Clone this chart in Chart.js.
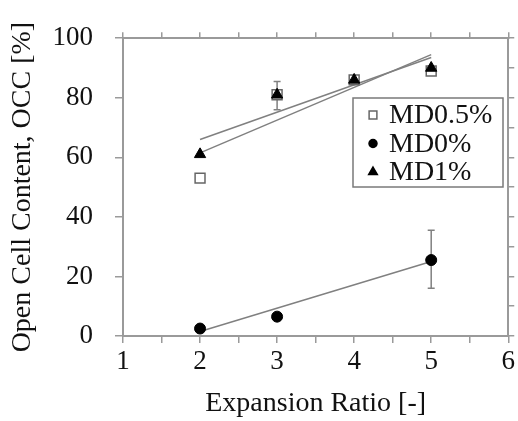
<!DOCTYPE html>
<html>
<head>
<meta charset="utf-8">
<script src="https://cdn.jsdelivr.net/npm/chart.js@4/dist/chart.umd.min.js"></script>
<style>
  html, body { margin: 0; padding: 0; background: #fff; }
  #wrap { width: 518px; height: 421px; }
</style>
</head>
<body>
<div id="wrap"><canvas id="chart" width="518" height="421"></canvas></div>
<script>
// Data
const ratios = [2, 3, 4, 5];
const md05 = [53, 81, 86, 89];
const md1 = [61, 81, 86, 90];
const md0Ratios = [2, 3, 5];
const md0 = [2.5, 6.5, 25.5];

// error bars: [x, low, high]
const errMd05 = [[3, 76, 85.5]];
const errMd0 = [[5, 16, 35.5]];

// trend lines, end points at ratio 2 and 5
const fitX = [2, 5];
const fitMd05 = [61.5, 94.5];
const fitMd1 = [66, 93.5];
const fitMd0 = [1.5, 25];

const FONT = 'Liberation Serif';
const AXIS_GREY = '#9a9a9a';
const LINE_GREY = '#808080';

const pts = (xs, ys) => xs.map((x, i) => ({ x: x, y: ys[i] }));

// error bars drawn under the markers
const errorBars = {
    id: 'errorBars',
    beforeDatasetsDraw(chart) {
        const ctx = chart.ctx;
        const xs = chart.scales.x, ys = chart.scales.y;
        ctx.save();
        ctx.strokeStyle = LINE_GREY;
        ctx.lineWidth = 1.5;
        errMd05.concat(errMd0).forEach(e => {
            const px = xs.getPixelForValue(e[0]);
            const lo = ys.getPixelForValue(e[1]);
            const hi = ys.getPixelForValue(e[2]);
            ctx.beginPath();
            ctx.moveTo(px, lo); ctx.lineTo(px, hi);
            ctx.moveTo(px - 3.5, lo); ctx.lineTo(px + 3.5, lo);
            ctx.moveTo(px - 3.5, hi); ctx.lineTo(px + 3.5, hi);
            ctx.stroke();
        });
        ctx.restore();
    }
};

// boxed legend inside the plot
const boxLegend = {
    id: 'boxLegend',
    afterDraw(chart) {
        const ctx = chart.ctx;
        const box = { left: 353, top: 98, right: 503, bottom: 187 };
        ctx.save();
        ctx.fillStyle = '#fff';
        ctx.fillRect(box.left, box.top, box.right - box.left, box.bottom - box.top);
        ctx.strokeStyle = '#7a7a7a';
        ctx.lineWidth = 1.5;
        ctx.strokeRect(box.left, box.top, box.right - box.left, box.bottom - box.top);
        ctx.font = '28px "' + FONT + '"';
        ctx.textBaseline = 'middle';
        const entries = chart.data.datasets.filter(d => d.legendRow !== undefined)
            .sort((a, b) => a.legendRow - b.legendRow);
        entries.forEach((ds, i) => {
            const y = 115 + i * 28.5;
            ctx.fillStyle = ds.backgroundColor;
            ctx.strokeStyle = ds.borderColor;
            Chart.helpers.drawPoint(ctx, {
                pointStyle: ds.pointStyle,
                radius: ds.pointRadius - 1.5,
                borderWidth: ds.borderWidth,
                rotation: 0
            }, 373, y);
            ctx.fillStyle = '#111';
            ctx.fillText(ds.label, 389, y + 1);
        });
        ctx.restore();
    }
};

function axisGrid(len) {
    return {
        drawOnChartArea: false,
        drawTicks: true,
        tickLength: len,
        color: AXIS_GREY,
        lineWidth: 1.5
    };
}

new Chart(document.getElementById('chart'), {
    type: 'scatter',
    data: {
        datasets: [
            {
                label: 'MD1%', legendRow: 2,
                data: pts(ratios, md1),
                pointStyle: 'triangle', pointRadius: 6.5,
                backgroundColor: '#000', borderColor: '#000', borderWidth: 1,
                order: 1
            },
            {
                label: 'MD0.5%', legendRow: 0,
                data: pts(ratios, md05),
                pointStyle: 'rect', pointRadius: 7,
                backgroundColor: '#fff', borderColor: '#666', borderWidth: 1.5,
                order: 2
            },
            {
                label: 'MD0%', legendRow: 1,
                data: pts(md0Ratios, md0),
                pointStyle: 'circle', pointRadius: 5.5,
                backgroundColor: '#000', borderColor: '#000', borderWidth: 1,
                order: 1
            },
            {
                label: 'fit MD0.5%', type: 'line',
                data: pts(fitX, fitMd05),
                borderColor: LINE_GREY, borderWidth: 1.5, pointRadius: 0,
                fill: false, order: 3
            },
            {
                label: 'fit MD1%', type: 'line',
                data: pts(fitX, fitMd1),
                borderColor: LINE_GREY, borderWidth: 1.5, pointRadius: 0,
                fill: false, order: 3
            },
            {
                label: 'fit MD0%', type: 'line',
                data: pts(fitX, fitMd0),
                borderColor: LINE_GREY, borderWidth: 1.5, pointRadius: 0,
                fill: false, order: 3
            }
        ]
    },
    options: {
        responsive: false,
        animation: false,
        layout: { padding: 0 },
        plugins: {
            legend: { display: false },
            tooltip: { enabled: false }
        },
        scales: {
            x: {
                type: 'linear', position: 'bottom',
                min: 1, max: 6,
                ticks: {
                    stepSize: 0.5, padding: 3, maxRotation: 0, autoSkip: false,
                    color: '#111', font: { family: FONT, size: 27 },
                    callback: v => (Number.isInteger(v) ? v : '')
                },
                grid: axisGrid(7),
                border: { color: AXIS_GREY, width: 2 },
                title: {
                    display: true, text: 'Expansion Ratio [-]',
                    color: '#111', font: { family: FONT, size: 28 },
                    padding: { top: 0, bottom: 1 }
                },
                afterFit: s => { s.height = 85; }
            },
            x2: {
                type: 'linear', position: 'top',
                min: 1, max: 6,
                ticks: { stepSize: 0.5, display: false },
                grid: axisGrid(6),
                border: { color: AXIS_GREY, width: 2 },
                afterFit: s => { s.height = 20; }
            },
            y: {
                type: 'linear', position: 'left',
                min: 0, max: 100,
                ticks: {
                    stepSize: 10, padding: 22,
                    color: '#111', font: { family: FONT, size: 27 },
                    callback: v => (v % 20 === 0 ? v : '')
                },
                grid: axisGrid(8),
                border: { color: AXIS_GREY, width: 2 },
                title: {
                    display: true, text: 'Open Cell Content, OCC [%]',
                    color: '#111', font: { family: FONT, size: 28 },
                    padding: { top: 6, bottom: 0 }
                },
                afterFit: s => { s.width = 123; }
            },
            y2: {
                type: 'linear', position: 'right',
                min: 0, max: 100,
                ticks: { stepSize: 10, display: false },
                grid: axisGrid(6),
                border: { color: AXIS_GREY, width: 2 },
                afterFit: s => { s.width = 7; }
            }
        }
    },
    plugins: [errorBars, boxLegend]
});
</script>
</body>
</html>
